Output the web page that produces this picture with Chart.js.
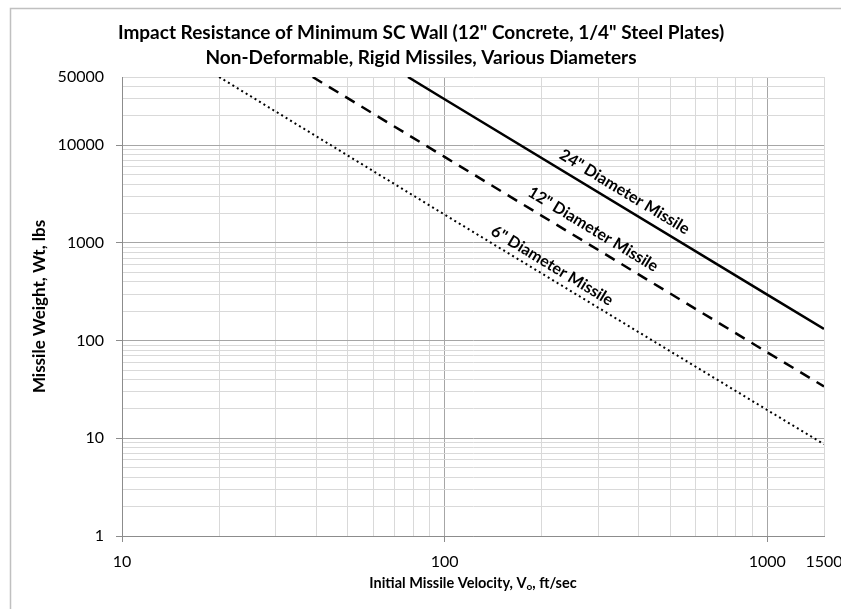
<!DOCTYPE html>
<html>
<head>
<meta charset="utf-8">
<script src="https://cdn.jsdelivr.net/npm/chart.js@4.4.0/dist/chart.umd.min.js"></script>
<style>
  html, body { margin: 0; padding: 0; background: #fff; overflow: hidden; }
  #wrap { width: 841px; height: 609px; }
  canvas { display: block; }
</style>
</head>
<body>
<div id="wrap"><canvas id="impact_chart" width="841" height="609"></canvas></div>
<script>
// values (velocity ft/sec -> weight lbs)
var vel24 = [77, 100, 1000, 1500];
var wt24  = [50000, 29600, 296, 132];
var vel12 = [39, 100, 1000, 1500];
var wt12  = [50000, 7600, 76, 34];
var vel6  = [20, 100, 1000, 1500];
var wt6   = [50000, 1950, 19.5, 8.7];

var seriesNames = ['24" Diameter Missile', '12" Diameter Missile', '6" Diameter Missile'];
var labelAt = [343, 273, 206];   // velocity where each inline label sits

var xTickLabels = [10, 100, 1000, 1500];
var yTickLabels = [1, 10, 100, 1000, 10000, 50000];

var titleLines = ['Impact Resistance of Minimum SC Wall (12" Concrete, 1/4" Steel Plates)',
                  'Non-Deformable, Rigid Missiles, Various Diameters'];

var FONT = 'Lato, "Open Sans", sans-serif';

function pts(xs, ys) {
    return xs.map(function(x, i){ return {x: x, y: ys[i]}; });
}

function logTicks(min, max, extra) {
    var out = [];
    for (var d = min; d < max; d *= 10) {
        for (var k = 1; k < 10; k++) {
            var v = d * k;
            if (v > max) break;
            out.push({value: v});
        }
    }
    extra.forEach(function(v){
        if (!out.some(function(t){ return t.value === v; })) out.push({value: v});
    });
    return out;
}

function isDecade(v) {
    var l = Math.log10(v);
    return Math.abs(l - Math.round(l)) < 1e-9;
}

var lineLabels = {
    id: 'lineLabels',
    afterDatasetsDraw: function(chart) {
        var ctx = chart.ctx, xs = chart.scales.x, ys = chart.scales.y;
        var offs = [14, 15, 12];
        ctx.save();
        ctx.font = 'bold 16px ' + FONT;
        ctx.fillStyle = '#000';
        ctx.textAlign = 'center';
        ctx.textBaseline = 'middle';
        chart.data.datasets.forEach(function(ds, i) {
            var d = ds.data;
            var a = d[1], b = d[2];
            var x1 = xs.getPixelForValue(a.x), y1 = ys.getPixelForValue(a.y);
            var x2 = xs.getPixelForValue(b.x), y2 = ys.getPixelForValue(b.y);
            var ang = Math.atan2(y2 - y1, x2 - x1);
            var t = (Math.log10(labelAt[i]) - Math.log10(a.x)) / (Math.log10(b.x) - Math.log10(a.x));
            var px = x1 + (x2 - x1) * t, py = y1 + (y2 - y1) * t;
            px += Math.sin(ang) * offs[i];
            py -= Math.cos(ang) * offs[i];
            ctx.save();
            ctx.translate(px, py);
            ctx.rotate(ang);
            ctx.fillText(seriesNames[i], 0, 0);
            ctx.restore();
        });
        ctx.restore();
    }
};

var frame = {
    id: 'frame',
    afterDraw: function(chart) {
        var ctx = chart.ctx, ca = chart.chartArea;
        ctx.save();
        ctx.strokeStyle = '#c0c0c0';
        ctx.lineWidth = 1.5;
        ctx.beginPath();
        ctx.moveTo(10.5, 609);
        ctx.lineTo(10.5, 8.5);
        ctx.lineTo(841, 8.5);
        ctx.stroke();

        ctx.fillStyle = '#000';
        ctx.textAlign = 'center';
        ctx.textBaseline = 'middle';
        ctx.font = 'bold 19px ' + FONT;
        ctx.fillText(titleLines[0], 421, 33);
        ctx.fillText(titleLines[1], 421, 58);

        // x axis title with subscript o
        ctx.font = 'bold 14.5px ' + FONT;
        var p1 = 'Initial Missile Velocity, V', p3 = ', ft/sec';
        var w1 = ctx.measureText(p1).width, w3 = ctx.measureText(p3).width;
        ctx.font = 'bold 10px ' + FONT;
        var w2 = ctx.measureText('o').width;
        var total = w1 + w2 + w3;
        var cx = (ca.left + ca.right) / 2;
        var sx = cx - total / 2, yy = 583;
        ctx.textAlign = 'left';
        ctx.font = 'bold 14.5px ' + FONT;
        ctx.fillText(p1, sx, yy);
        ctx.font = 'bold 10px ' + FONT;
        ctx.fillText('o', sx + w1, yy + 4);
        ctx.font = 'bold 14.5px ' + FONT;
        ctx.fillText(p3, sx + w1 + w2, yy);

        // y axis title
        ctx.font = 'bold 17px ' + FONT;
        ctx.translate(40, (ca.top + ca.bottom) / 2);
        ctx.rotate(-Math.PI / 2);
        ctx.textAlign = 'center';
        ctx.fillText('Missile Weight, Wt, lbs', 0, 0);
        ctx.restore();
    }
};

var gridColor = function(c){ return c.tick && isDecade(c.tick.value) ? '#a6a6a6' : '#d9d9d9'; };
var tickMarkColor = function(c){ return c.tick && isDecade(c.tick.value) ? '#8c8c8c' : 'rgba(0,0,0,0)'; };

var config = {
    type: 'line',
    data: {
        datasets: [{
            label: seriesNames[0],
            data: pts(vel24, wt24),
            borderColor: '#000',
            borderWidth: 2.5,
            pointRadius: 0,
            fill: false,
            tension: 0
        }, {
            label: seriesNames[1],
            data: pts(vel12, wt12),
            borderColor: '#000',
            borderWidth: 2.5,
            borderDash: [11, 8],
            pointRadius: 0,
            fill: false,
            tension: 0
        }, {
            label: seriesNames[2],
            data: pts(vel6, wt6),
            borderColor: '#000',
            borderWidth: 2,
            borderDash: [2, 3.2],
            pointRadius: 0,
            fill: false,
            tension: 0
        }]
    },
    options: {
        responsive: false,
        animation: false,
        devicePixelRatio: 1,
        layout: { padding: { top: 77, right: 17, left: 0, bottom: 0 } },
        plugins: {
            legend: { display: false },
            tooltip: { enabled: false }
        },
        scales: {
            x: {
                type: 'logarithmic',
                min: 10,
                max: 1500,
                afterBuildTicks: function(s){ s.ticks = logTicks(10, 1500, [1500]); },
                afterFit: function(s){ s.height = 73; s.paddingLeft = 0; s.paddingRight = 0; },
                ticks: {
                    autoSkip: false,
                    maxRotation: 0,
                    padding: 10,
                    color: '#000',
                    font: { family: FONT, size: 16 },
                    callback: function(v){ return xTickLabels.indexOf(v) >= 0 ? String(v) : ''; }
                },
                grid: { tickLength: 6, color: gridColor, tickColor: tickMarkColor, lineWidth: 1 },
                border: { color: '#8c8c8c', width: 1 }
            },
            y: {
                type: 'logarithmic',
                min: 1,
                max: 50000,
                afterBuildTicks: function(s){ s.ticks = logTicks(1, 50000, [50000]); },
                afterFit: function(s){ s.width = 122; s.paddingTop = 0; s.paddingBottom = 0; },
                ticks: {
                    autoSkip: false,
                    padding: 12,
                    color: '#000',
                    font: { family: FONT, size: 16 },
                    callback: function(v){ return yTickLabels.indexOf(v) >= 0 ? String(v) : ''; }
                },
                grid: { tickLength: 6, color: gridColor, tickColor: tickMarkColor, lineWidth: 1 },
                border: { color: '#8c8c8c', width: 1 }
            }
        }
    },
    plugins: [lineLabels, frame]
};

window.chart = new Chart(document.getElementById('impact_chart').getContext('2d'), config);
</script>
</body>
</html>
